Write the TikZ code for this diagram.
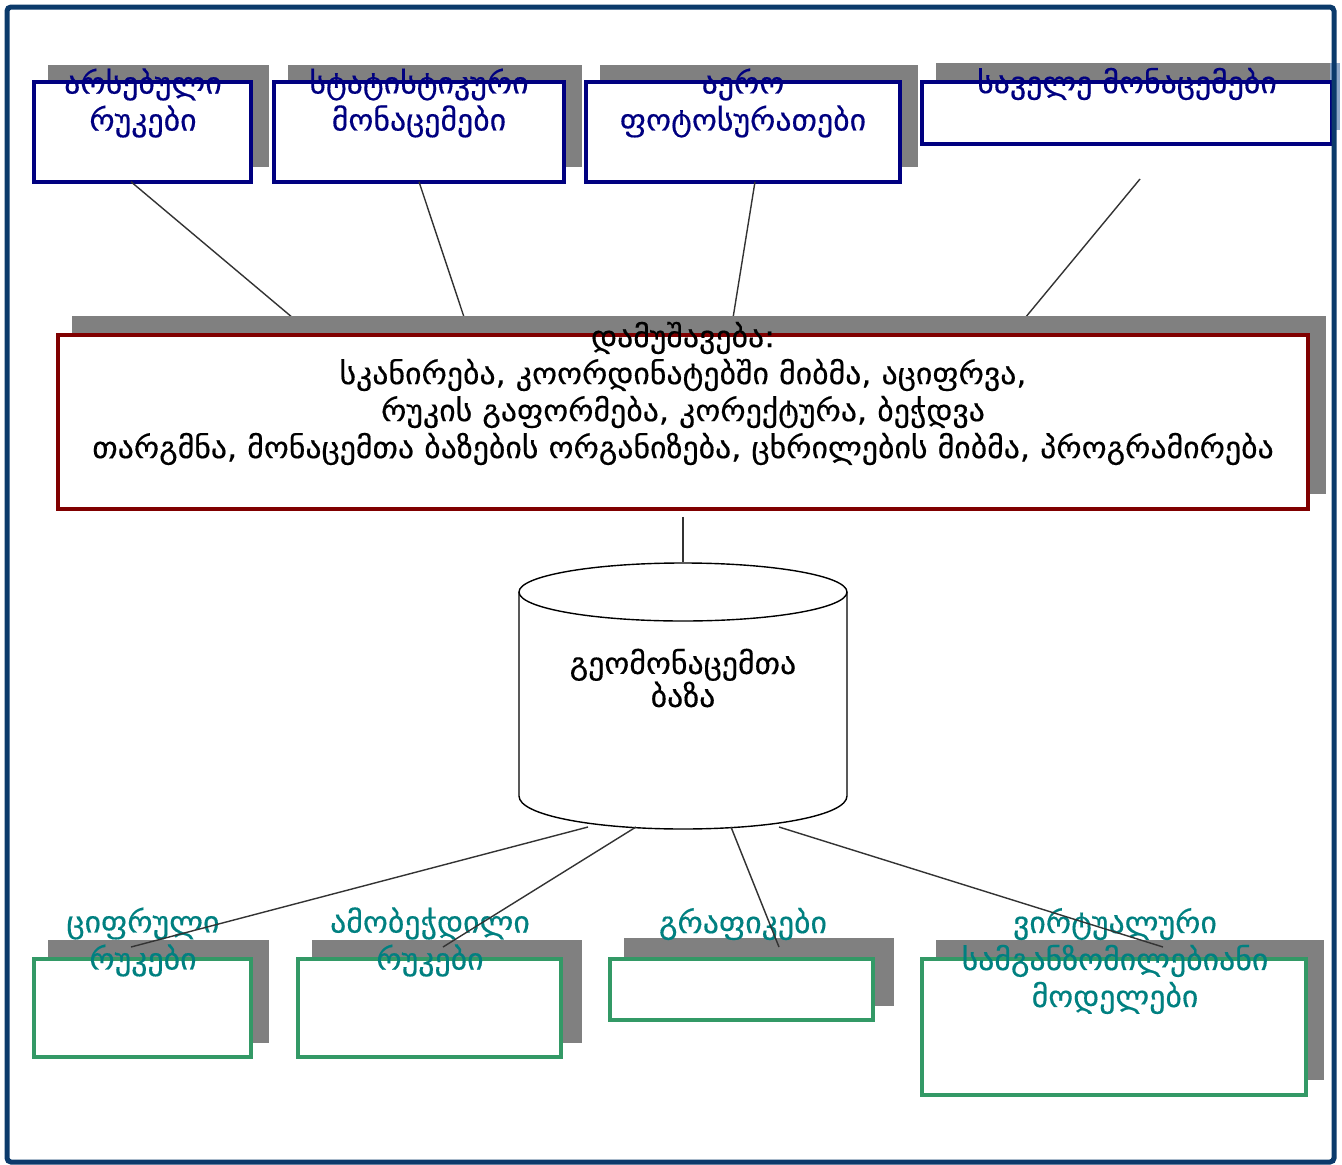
\documentclass[tikz,border=0pt]{standalone}
\usepackage{fontspec}
\setmainfont{DejaVu Sans}[FakeStretch=1.06,FakeBold=0.4]
\usetikzlibrary{calc}
\definecolor{navytxt}{HTML}{000080}
\definecolor{darkredb}{HTML}{800000}
\definecolor{greenb}{HTML}{339966}
\definecolor{tealtxt}{HTML}{008080}
\definecolor{shadowgray}{HTML}{808080}
\definecolor{framecol}{HTML}{0B3A6B}
\definecolor{linegray}{HTML}{333333}
\definecolor{stripblue}{HTML}{8FA8C8}
\newcommand\gfont{\fontsize{30pt}{37pt}\selectfont}
\newcommand\gfontdb{\fontsize{30pt}{33pt}\selectfont}
\begin{document}
\begin{tikzpicture}[x=1pt,y=-1pt,
  shadowrect/.style={fill=shadowgray,draw=none},
  topbox/.style={draw=navytxt,line width=3.5pt,fill=white,inner sep=0pt},
  midbox/.style={draw=darkredb,line width=3.5pt,fill=white,inner sep=0pt},
  botbox/.style={draw=greenb,line width=3.5pt,fill=white,inner sep=0pt},
  toptext/.style={text=navytxt,font=\gfont,align=center,inner sep=0pt},
  midtext/.style={text=black,font=\gfont,align=center,inner sep=0pt},
  bottext/.style={text=tealtxt,font=\gfont,align=center,inner sep=0pt},
  conn/.style={draw=linegray,line width=1.4pt}]
\useasboundingbox (0,0) rectangle (1342,1165);
\fill[white] (0,0) rectangle (1342,1165);

% top row
\fill[shadowrect] (48,65) rectangle (269,167);
\fill[shadowrect] (288,65) rectangle (582,167);
\fill[shadowrect] (600,65) rectangle (918,167);
\fill[shadowrect] (936,63) rectangle (1336,130);
\fill[stripblue] (1330,63) rectangle (1340,130);
\node[topbox,minimum width=217pt,minimum height=100pt] (t1) at (142.5,132) {};
\node[topbox,minimum width=290pt,minimum height=100pt] (t2) at (419,132) {};
\node[topbox,minimum width=314pt,minimum height=100pt] (t3) at (743,132) {};
\node[topbox,minimum width=410pt,minimum height=62pt] (t4) at (1127,113) {};
\node[toptext] (tt1) at (143,103) {არსებული\\რუკები};
\node[toptext] (tt2) at (419,103) {სტატისტიკური\\მონაცემები};
\node[toptext] (tt3) at (743,103) {აერო\\ფოტოსურათები};
\node[toptext] (tt4) at (1127,84) {საველე მონაცემები};

% connector ends on the processing block
\coordinate (m1) at (293,318);
\coordinate (m2) at (465,320);
\coordinate (m3) at (733,318);
\coordinate (m4) at (1025,318);
\draw[conn] ($(t1.south)+(-11.5,-2)$) -- (m1);
\draw[conn] ($(t2.south)+(0,-2)$) -- (m2);
\draw[conn] ($(t3.south)+(12,-2)$) -- (m3);
\coordinate (t4c) at (1140,179);
\draw[conn] (t4c) -- (m4);

% processing block
\fill[shadowrect] (72,316) rectangle (1326,494);
\node[midbox,minimum width=1250pt,minimum height=174pt] (mid) at (683,422) {};
\node[midtext] (midt) at (683,393.5) {დამუშავება:\\სკანირება, კოორდინატებში მიბმა, აციფრვა,\\რუკის გაფორმება, კორექტურა, ბეჭდვა\\თარგმნა, მონაცემთა ბაზების ორგანიზება, ცხრილების მიბმა, პროგრამირება};

% database cylinder
\node[minimum width=328pt,minimum height=265pt,inner sep=0pt] (db) at (683,695) {};
\draw[line width=1.4pt,fill=white] (519,592) -- (519,796)
  .. controls (519,815) and (592,829) .. (683,829)
  .. controls (774,829) and (847,815) .. (847,796) -- (847,592);
\draw[line width=1.4pt] (683,592) ellipse [x radius=164, y radius=29];
\node[midtext,font=\gfontdb] (dbt) at (683,678) {გეომონაცემთა\\ბაზა};
\draw[conn] ($(mid.south)+(0,6)$) -- (db.north);

% bottom row
\fill[shadowrect] (48,940) rectangle (269,1043);
\fill[shadowrect] (312,940) rectangle (582,1043);
\fill[shadowrect] (624,938) rectangle (894,1006);
\fill[shadowrect] (936,940) rectangle (1324,1080);
\node[botbox,minimum width=217pt,minimum height=98pt] (b1) at (142.5,1008) {};
\node[botbox,minimum width=263pt,minimum height=98pt] (b2) at (429.5,1008) {};
\node[botbox,minimum width=263pt,minimum height=61pt] (b3) at (741.5,989.5) {};
\node[botbox,minimum width=384pt,minimum height=136pt] (b4) at (1114,1027) {};
\node[bottext] (bt1) at (143,942) {ციფრული\\რუკები};
\node[bottext] (bt2) at (430,942) {ამობეჭდილი\\რუკები};
\node[bottext] (bt3) at (743,924) {გრაფიკები};
\node[bottext] (bt4) at (1115,961) {ვირტუალური\\სამგანზომილებიანი\\მოდელები};

\coordinate (d1) at (588,827);
\coordinate (d2) at (636,827);
\coordinate (d3) at (731,827);
\coordinate (d4) at (779,827);
\coordinate (e1) at (131,947);
\coordinate (e2) at (443,947);
\coordinate (e3) at (779,947);
\coordinate (e4) at (1163,947);
\draw[conn] (d1) -- (e1);
\draw[conn] (d2) -- (e2);
\draw[conn] (d3) -- (e3);
\draw[conn] (d4) -- (e4);

% outer frame
\draw[framecol,line width=5pt,rounded corners=4pt] (7,7) rectangle (1334,1162);
\end{tikzpicture}
\end{document}
